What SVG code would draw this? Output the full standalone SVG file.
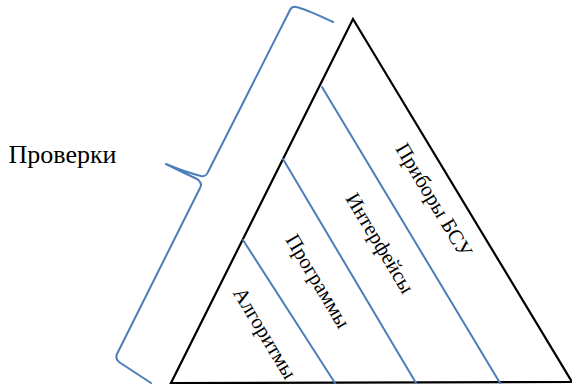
<svg xmlns="http://www.w3.org/2000/svg" width="572" height="387" viewBox="0 0 572 387">
<style>
.blue{fill:none;stroke:#4a7ebb;stroke-width:2;stroke-linejoin:round;stroke-linecap:round}
.black{fill:none;stroke:#000;stroke-width:2.2;stroke-linejoin:miter}
.t{font-family:"Liberation Serif","Times New Roman",serif;font-size:21px;fill:#000;text-anchor:middle}
</style>
<rect width="572" height="387" fill="#fff"/>
<g id="pyramid">
<polygon class="black" points="353,19 572,382 171,383"/>
</g>
<g id="connectors">
<line class="blue" x1="322" y1="87" x2="500" y2="383"/>
<line class="blue" x1="283" y1="159" x2="416" y2="383"/>
<line class="blue" x1="243" y1="240" x2="335" y2="383"/>
</g>
<g id="brace">
<path class="blue" d="M333,22 C320,16 306,9 296,7 Q292,6 290,10 L208,172 Q206,177 201,176 Q185,172 166,164 Q182,172 197,179 Q203,183 200,188 L117,354 Q115,359 119,362 L151,383"/>
</g>
<g id="label-proverki"><text class="t" x="62.5" y="163" style="font-size:26px">Проверки</text></g>
<g id="layer-pribory"><text class="t" transform="translate(434,200) rotate(59)" y="7">Приборы БСУ</text></g>
<g id="layer-interfeisy"><text class="t" transform="translate(380,243) rotate(59)" y="7">Интерфейсы</text></g>
<g id="layer-programmy"><text class="t" transform="translate(318,281) rotate(59)" y="7">Программы</text></g>
<g id="layer-algoritmy"><text class="t" transform="translate(265,333) rotate(59)" y="7">Алгоритмы</text></g>
</svg>
